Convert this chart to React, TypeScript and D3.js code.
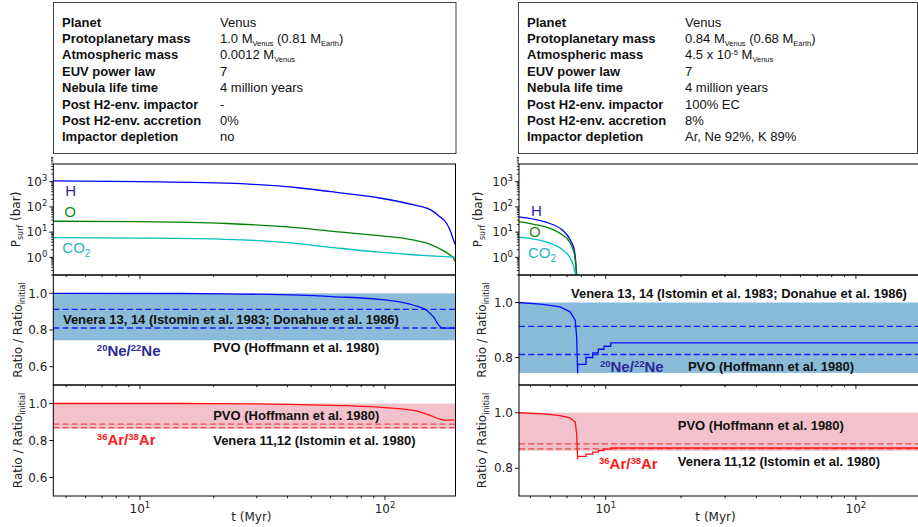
import React from "react";
import * as d3 from "d3";

// ---------------- data ----------------

const infoLabels = [
	"Planet",
	"Protoplanetary mass",
	"Atmospheric mass",
	"EUV power law",
	"Nebula life time",
	"Post H2-env. impactor",
	"Post H2-env. accretion",
	"Impactor depletion",
];

type Seg = [string, ("sub" | "sup")?];

const infoValuesA: Seg[][] = [
	[["Venus"]],
	[["1.0 M"], ["Venus", "sub"], [" (0.81 M"], ["Earth", "sub"], [")"]],
	[["0.0012 M"], ["Venus", "sub"]],
	[["7"]],
	[["4 million years"]],
	[["-"]],
	[["0%"]],
	[["no"]],
];

const infoValuesB: Seg[][] = [
	[["Venus"]],
	[["0.84 M"], ["Venus", "sub"], [" (0.68 M"], ["Earth", "sub"], [")"]],
	[["4.5 x 10"], ["-5", "sup"], [" M"], ["Venus", "sub"]],
	[["7"]],
	[["4 million years"]],
	[["100% EC"]],
	[["8%"]],
	[["Ar, Ne 92%, K 89%"]],
];

// left column: no impactor
const tH_A = [4.43, 10, 22.5, 45, 60, 95, 130, 153, 167, 178, 185, 190, 194];
const pH_A = [1080, 1000, 870, 560, 400, 225, 122, 78, 42, 23, 11, 5.1, 3.0];
const tO_A = [4.43, 10, 22.5, 40, 60, 95, 130, 153, 172, 183, 190, 194];
const pO_A = [27, 26, 22, 16, 11, 7.2, 4.9, 3.3, 1.9, 1.3, 0.95, 0.65];
const tC_A = [4.43, 10, 22.5, 40, 60, 95, 130, 153, 175, 194];
const pC_A = [6.0, 5.8, 5.2, 3.8, 2.5, 1.6, 1.27, 1.15, 1.07, 1.02];
const tNe_A = [4.43, 15, 22.5, 45, 61, 100, 131, 148, 158, 167, 172, 194];
const vNe_A = [1.0, 0.999, 0.997, 0.99, 0.982, 0.964, 0.935, 0.906, 0.87, 0.821, 0.81, 0.81];
const tAr_A = [4.43, 15, 30, 45, 70, 100, 131, 153, 168, 175, 194];
const vAr_A = [1.0, 1.0, 0.998, 0.994, 0.988, 0.978, 0.963, 0.936, 0.915, 0.91, 0.91];

// right column: with impactor
const tH_B = [4.5, 5.2, 5.9, 6.67, 7.2, 7.5, 7.6, 7.65];
const pH_B = [40, 32, 23, 12.6, 5.1, 1.8, 0.52, 0.19];
const tO_B = [4.5, 5.2, 5.9, 6.67, 7.2, 7.5, 7.6, 7.65];
const pO_B = [26, 20, 14.8, 8, 3.8, 1.3, 0.39, 0.19];
const tC_B = [4.5, 5.2, 5.9, 6.67, 7.2, 7.43, 7.58];
const pC_B = [6.3, 5.2, 3.8, 2.1, 0.97, 0.46, 0.19];
const tRatio_B = [4.5, 5.62, 6.56, 7.2, 7.55, 7.65, 7.72, 7.72, 8.34, 8.34, 8.87, 8.87, 9.34, 9.34, 9.84, 9.84, 10.47, 10.47, 182];
const vNe_B = [1.0, 0.993, 0.984, 0.966, 0.936, 0.875, 0.742, 0.775, 0.775, 0.8, 0.8, 0.817, 0.817, 0.83, 0.83, 0.841, 0.841, 0.853, 0.853];
const vAr_B = [1.0, 0.996, 0.99, 0.982, 0.966, 0.925, 0.832, 0.843, 0.843, 0.851, 0.851, 0.858, 0.858, 0.864, 0.864, 0.869, 0.869, 0.873, 0.873];

// measured ranges
const neBand = [0.744, 1.0];
const neVenera = [0.811, 0.913];
const arBand = [0.863, 1.0];
const arVenera = [0.87, 0.888];

// ticks
const tMajor = [10, 100];
const tMajorExp = ["1", "2"];
const pMajor = [1, 10, 100, 1000];
const pMajorExp = ["0", "1", "2", "3"];

// ---------------- layout ----------------

const W = 918;
const H = 527;
const panelY: [number, number][] = [
	[164, 275],
	[275, 385],
	[385, 496],
];
const SANS = "'Liberation Sans', Arial, sans-serif";

const segs = (list: Seg[], small: number) => {
	let shift = 0;
	return list.map(([txt, kind], i) => {
		const target = kind === "sub" ? 3 : kind === "sup" ? -4.5 : 0;
		const dy = target - shift;
		shift = target;
		return (
			<tspan key={i} dy={dy} fontSize={kind ? small : undefined}>
				{txt}
			</tspan>
		);
	});
};

const InfoBox = ({x0, x1, labelX, valueX, values}: any) => (
	<g fontFamily={SANS} fontSize={13} fill="#111">
		<rect x={x0} y={2.5} width={x1 - x0} height={151} fill="#fff" stroke="#444" strokeWidth={1} />
		{infoLabels.map((l, i) => (
			<text key={l} x={labelX} y={26.5 + 16.4 * i} fontWeight="bold">
				{l}
			</text>
		))}
		{values.map((v: Seg[], i: number) => (
			<text key={i} x={valueX} y={26.5 + 16.4 * i}>
				{segs(v, 7.5)}
			</text>
		))}
	</g>
);

const Column = ({c}: any) => {
	const x = d3.scaleLog().domain(c.tDomain).range([c.left, c.right]);
	const yP = d3.scaleLog().domain([0.2, 5000]).range([panelY[0][1], panelY[0][0]]);
	const yNe = d3.scaleLinear().domain(c.ratioDomain).range([panelY[1][1], panelY[1][0]]);
	const yAr = d3.scaleLinear().domain(c.ratioDomain).range([panelY[2][1], panelY[2][0]]);
	// smooth curves for the continuous series, straight segments for the stepped ones
	const path = (ts: number[], vs: number[], y: any, smooth = true) =>
		d3
			.line<number>()
			.x((_, i) => x(ts[i]))
			.y((v) => y(v))
			.curve(smooth ? d3.curveMonotoneX : d3.curveLinear)(vs) || "";

	const tMinor: number[] = [];
	[1, 10, 100].forEach((d) => [2, 3, 4, 5, 6, 7, 8, 9].forEach((m) => tMinor.push(d * m)));
	const tMin = tMinor.filter((t) => t >= c.tDomain[0] && t <= c.tDomain[1]);
	const pMinor: number[] = [];
	[0.1, 1, 10, 100, 1000].forEach((d) => [2, 3, 4, 5, 6, 7, 8, 9].forEach((m) => pMinor.push(d * m)));

	const w = c.right - c.left;
	const xTicks = (yb: number, key: string) => (
		<g key={key} stroke="#000" strokeWidth={0.9}>
			{tMin.map((t) => (
				<line key={t} x1={x(t)} x2={x(t)} y1={yb} y2={yb + 2.2} />
			))}
			{tMajor.map((t) => (
				<line key={t} x1={x(t)} x2={x(t)} y1={yb} y2={yb + 4} />
			))}
		</g>
	);

	const ratioAxis = (y: any, key: string) => (
		<g key={key}>
			{c.ratioTicks.map((v: number) => (
				<g key={v}>
					<line x1={c.left - 4} x2={c.left} y1={y(v)} y2={y(v)} stroke="#000" strokeWidth={0.9} />
					<text x={c.left - 6} y={y(v) + 4.2} textAnchor="end" fontSize={12} fill="#222">
						{v.toFixed(1)}
					</text>
				</g>
			))}
		</g>
	);

	const clip = (i: number) => `url(#${c.id}-clip${i})`;
	const bold = {fontFamily: SANS, fontWeight: "bold", fontSize: 13, fill: "#111"} as any;

	return (
		<g>
			<defs>
				{panelY.map(([a, b], i) => (
					<clipPath key={i} id={`${c.id}-clip${i}`}>
						<rect x={c.left} y={a} width={w} height={b - a} />
					</clipPath>
				))}
			</defs>

			{/* pressure panel */}
			<g clipPath={clip(0)} fill="none" strokeWidth={1.3}>
				<path d={path(c.tH, c.pH, yP)} stroke="#0000ff" />
				<path d={path(c.tO, c.pO, yP)} stroke="#008000" />
				<path d={path(c.tC, c.pC, yP)} stroke="#00bfbf" />
			</g>
			<g fontFamily={SANS} fontSize={15}>
				<text x={c.left + c.hLab[0]} y={c.hLab[1]} fill="#2c2c98">H</text>
				<text x={c.left + c.oLab[0]} y={c.oLab[1]} fill="#1e8a1e">O</text>
				<text x={c.left + c.cLab[0]} y={c.cLab[1]} fill="#1fb8c0">
					CO<tspan dy={4} fontSize={10}>2</tspan>
				</text>
			</g>
			{pMinor.map((p) => (
				<line key={p} x1={c.left - 2.2} x2={c.left} y1={yP(p)} y2={yP(p)} stroke="#000" strokeWidth={0.8} />
			))}
			{pMajor.map((p, i) => (
				<g key={p}>
					<line x1={c.left - 4} x2={c.left} y1={yP(p)} y2={yP(p)} stroke="#000" strokeWidth={0.9} />
					<text x={c.left - 6} y={yP(p) + 4.2} textAnchor="end" fontSize={12} fill="#222">
						10<tspan dy={-5} fontSize={8.5}>{pMajorExp[i]}</tspan>
					</text>
				</g>
			))}

			{/* Ne panel */}
			<rect
				x={c.left}
				width={w}
				y={yNe(neBand[1])}
				height={yNe(neBand[0]) - yNe(neBand[1])}
				fill="#8abcda"
			/>
			{neVenera.map((v) => (
				<line key={v} x1={c.left} x2={c.right} y1={yNe(v)} y2={yNe(v)} stroke="#1a1aff" strokeWidth={1.3} strokeDasharray="6,3.2" />
			))}
			<path d={path(c.tNe, c.vNe, yNe, c.smoothRatio)} clipPath={clip(1)} fill="none" stroke="#0a0aff" strokeWidth={1.3} />
			<text {...bold} x={x(c.neVen[0])} y={yNe(c.neVen[1]) + 4.6}>
				Venera 13, 14 (Istomin et al. 1983; Donahue et al. 1986)
			</text>
			<text {...bold} x={x(c.nePvo[0])} y={yNe(c.nePvo[1]) + 4.6}>
				PVO (Hoffmann et al. 1980)
			</text>
			<text fontFamily={SANS} fontWeight="bold" fontSize={15} fill="#2a2a96" x={x(c.neLab[0])} y={yNe(c.neLab[1]) + 5.4}>
				<tspan fontSize={9.5} dy={-5}>20</tspan>
				<tspan dy={5}>Ne/</tspan>
				<tspan fontSize={9.5} dy={-5}>22</tspan>
				<tspan dy={5}>Ne</tspan>
			</text>
			{ratioAxis(yNe, "ne")}

			{/* Ar panel */}
			<rect
				x={c.left}
				width={w}
				y={yAr(arBand[1])}
				height={yAr(arBand[0]) - yAr(arBand[1])}
				fill="#f3c1cc"
			/>
			{arVenera.map((v) => (
				<line key={v} x1={c.left} x2={c.right} y1={yAr(v)} y2={yAr(v)} stroke="#ea4a4a" strokeWidth={1.2} strokeDasharray="6,3.2" />
			))}
			<path d={path(c.tAr, c.vAr, yAr, c.smoothRatio)} clipPath={clip(2)} fill="none" stroke="#ff1010" strokeWidth={1.3} />
			<text {...bold} x={x(c.arPvo[0])} y={yAr(c.arPvo[1]) + 4.6}>
				PVO (Hoffmann et al. 1980)
			</text>
			<text {...bold} x={x(c.arVen[0])} y={yAr(c.arVen[1]) + 4.6}>
				Venera 11,12 (Istomin et al. 1980)
			</text>
			<text fontFamily={SANS} fontWeight="bold" fontSize={15} fill="#ff1a1a" x={x(c.arLab[0])} y={yAr(c.arLab[1]) + 5.4}>
				<tspan fontSize={9.5} dy={-5}>36</tspan>
				<tspan dy={5}>Ar/</tspan>
				<tspan fontSize={9.5} dy={-5}>38</tspan>
				<tspan dy={5}>Ar</tspan>
			</text>
			{ratioAxis(yAr, "ar")}

			{/* frames */}
			{panelY.map(([a, b], i) => (
				<rect key={i} x={c.left} y={a} width={w} height={b - a} fill="none" stroke="#000" strokeWidth={1} />
			))}
			{panelY.map(([, b], i) => xTicks(b, `xt${i}`))}

			{/* x tick labels */}
			{tMajor.map((t, i) => (
				<text key={t} x={x(t)} y={512.5} textAnchor="middle" fontSize={12} fill="#222">
					10<tspan dy={-5} fontSize={8.5}>{tMajorExp[i]}</tspan>
				</text>
			))}
			<text x={(c.left + Math.min(c.right, W)) / 2 - 3} y={521} textAnchor="middle" fontSize={12} fill="#222">
				t (Myr)
			</text>

			{/* y labels */}
			<text
				transform={`translate(${c.left - c.yLabOff[0]},${(panelY[0][0] + panelY[0][1]) / 2}) rotate(-90)`}
				textAnchor="middle"
				fontSize={12}
				fill="#222"
			>
				P<tspan dy={3} fontSize={8}>surf</tspan>
				<tspan dy={-3}> (bar)</tspan>
			</text>
			{[1, 2].map((i) => (
				<text
					key={i}
					transform={`translate(${c.left - c.yLabOff[1]},${(panelY[i][0] + panelY[i][1]) / 2}) rotate(-90)`}
					textAnchor="middle"
					fontSize={12}
					fill="#222"
				>
					Ratio / Ratio<tspan dy={3} fontSize={8}>initial</tspan>
				</text>
			))}
		</g>
	);
};

const colA = {
	id: "a",
	left: 53.3,
	right: 455.5,
	tDomain: [4.43, 194],
	ratioDomain: [0.5, 1.1],
	ratioTicks: [0.6, 0.8, 1.0],
	smoothRatio: true,
	tH: tH_A, pH: pH_A, tO: tO_A, pO: pO_A, tC: tC_A, pC: pC_A,
	tNe: tNe_A, vNe: vNe_A, tAr: tAr_A, vAr: vAr_A,
	hLab: [12, 196], oLab: [11, 217], cLab: [9, 253],
	neVen: [4.85, 0.858], nePvo: [19.9, 0.705], neLab: [6.67, 0.69],
	arPvo: [19.9, 0.938], arVen: [19.9, 0.803], arLab: [6.67, 0.806],
	yLabOff: [33, 31],
};

const colB = {
	id: "b",
	left: 519,
	right: 921,
	tDomain: [4.5, 182],
	ratioDomain: [0.7, 1.1],
	ratioTicks: [0.8, 1.0],
	smoothRatio: false,
	tH: tH_B, pH: pH_B, tO: tO_B, pO: pO_B, tC: tC_B, pC: pC_B,
	tNe: tRatio_B, vNe: vNe_B, tAr: tRatio_B, vAr: vAr_B,
	hLab: [12, 215.5], oLab: [10, 237], cLab: [9, 257.5],
	neVen: [7.26, 1.033], nePvo: [21.3, 0.767], neLab: [9.48, 0.767],
	arPvo: [19.4, 0.956], arVen: [19.4, 0.824], arLab: [9.4, 0.818],
	yLabOff: [37, 33],
};

export default function App() {
	return (
		<svg
			width={W}
			height={H}
			style={{position: "absolute", left: 0, top: 0, background: "#fff"}}
			fontFamily="'DejaVu Sans', sans-serif"
		>
			<rect width={W} height={H} fill="#fff" />
			<InfoBox x0={53.5} x1={456} labelX={62} valueX={220} values={infoValuesA} />
			<InfoBox x0={518.5} x1={917.5} labelX={527} valueX={685} values={infoValuesB} />
			<Column c={colA} />
			<Column c={colB} />
		</svg>
	);
}
